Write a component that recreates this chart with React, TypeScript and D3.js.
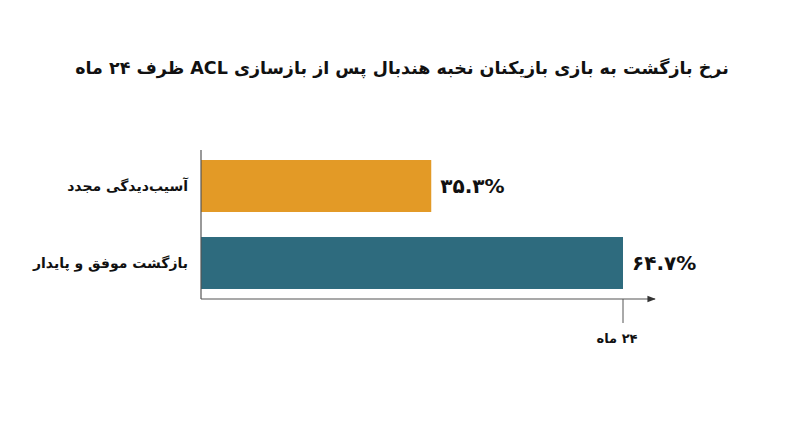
import React, { useEffect, useRef } from 'react';
import * as d3 from 'd3';

const categories = ['آسیب‌دیدگی مجدد', 'بازگشت موفق و پایدار'];
const values = [35.3, 64.7];
const valueLabels = ['۳۵.۳%', '۶۴.۷%'];
const colors = ['#E39A26', '#2E6B7E'];
const tickValues = [64.7];
const tickLabels = ['۲۴ ماه'];
const title = 'نرخ بازگشت به بازی بازیکنان نخبه هندبال پس از بازسازی ACL ظرف ۲۴ ماه';

const width = 800;
const height = 447;
const font = '"DejaVu Sans", sans-serif';

export default function App() {
  const svgRef = useRef<SVGSVGElement>(null);

  useEffect(() => {
    if (!svgRef.current) return;
    const svg = d3.select(svgRef.current);
    svg.selectAll('*').remove();

    const x0 = 201;
    const axisY = 299;

    const x = d3.scaleLinear().domain([0, 64.7]).range([x0, 623]);
    const y = d3.scaleBand()
      .domain(categories)
      .range([150, 299])
      .paddingInner(0.325)
      .paddingOuter(0.13);

    // title
    svg.append('text')
      .attr('x', 402)
      .attr('y', 74)
      .attr('text-anchor', 'middle')
      .attr('direction', 'rtl')
      .style('font-family', font)
      .style('font-size', '17.5px')
      .style('font-weight', 'bold')
      .style('fill', '#111')
      .text(title);

    // bars
    svg.selectAll('rect.bar')
      .data(values)
      .enter()
      .append('rect')
      .attr('class', 'bar')
      .attr('x', x(0))
      .attr('y', (_, i) => y(categories[i])!)
      .attr('width', d => x(d) - x(0))
      .attr('height', y.bandwidth())
      .attr('fill', (_, i) => colors[i]);

    // value labels
    svg.selectAll('text.val')
      .data(values)
      .enter()
      .append('text')
      .attr('class', 'val')
      .attr('x', d => x(d) + 9)
      .attr('y', (_, i) => y(categories[i])! + y.bandwidth() / 2)
      .attr('dy', '0.36em')
      .attr('direction', 'ltr')
      .style('font-family', font)
      .style('font-size', '20px')
      .style('font-weight', 'bold')
      .style('fill', '#111')
      .text((_, i) => valueLabels[i]);

    // category labels
    svg.selectAll('text.cat')
      .data(categories)
      .enter()
      .append('text')
      .attr('class', 'cat')
      .attr('x', 188)
      .attr('y', d => y(d)! + y.bandwidth() / 2)
      .attr('dy', '0.36em')
      .attr('text-anchor', 'end')
      .attr('direction', 'ltr')
      .style('font-family', font)
      .style('font-size', '14px')
      .style('font-weight', 'bold')
      .style('fill', '#111')
      .text(d => d);

    // y axis line
    svg.append('line')
      .attr('x1', x0).attr('x2', x0)
      .attr('y1', 150).attr('y2', axisY)
      .attr('stroke', '#555').attr('stroke-width', 1.2);

    // x axis with arrow
    svg.append('defs').append('marker')
      .attr('id', 'arrow')
      .attr('viewBox', '0 0 10 10')
      .attr('refX', 9).attr('refY', 5)
      .attr('markerWidth', 7).attr('markerHeight', 7)
      .attr('orient', 'auto')
      .append('path')
      .attr('d', 'M0,1L10,5L0,9Z')
      .attr('fill', '#333');

    svg.append('line')
      .attr('x1', x0).attr('x2', 655)
      .attr('y1', axisY).attr('y2', axisY)
      .attr('stroke', '#555').attr('stroke-width', 1.2)
      .attr('marker-end', 'url(#arrow)');

    tickValues.forEach((t, i) => {
      svg.append('line')
        .attr('x1', x(t)).attr('x2', x(t))
        .attr('y1', axisY).attr('y2', axisY + 24)
        .attr('stroke', '#555').attr('stroke-width', 1);
      svg.append('text')
        .attr('x', x(t) - 6)
        .attr('y', axisY + 44)
        .attr('text-anchor', 'middle')
        .attr('direction', 'rtl')
        .style('font-family', font)
        .style('font-size', '13px')
        .style('font-weight', 'bold')
        .style('fill', '#111')
        .text(tickLabels[i]);
    });
  }, []);

  return (
    <svg
      ref={svgRef}
      width={width}
      height={height}
      style={{ position: 'absolute', left: 0, top: 0, background: '#fff' }}
    />
  );
}
